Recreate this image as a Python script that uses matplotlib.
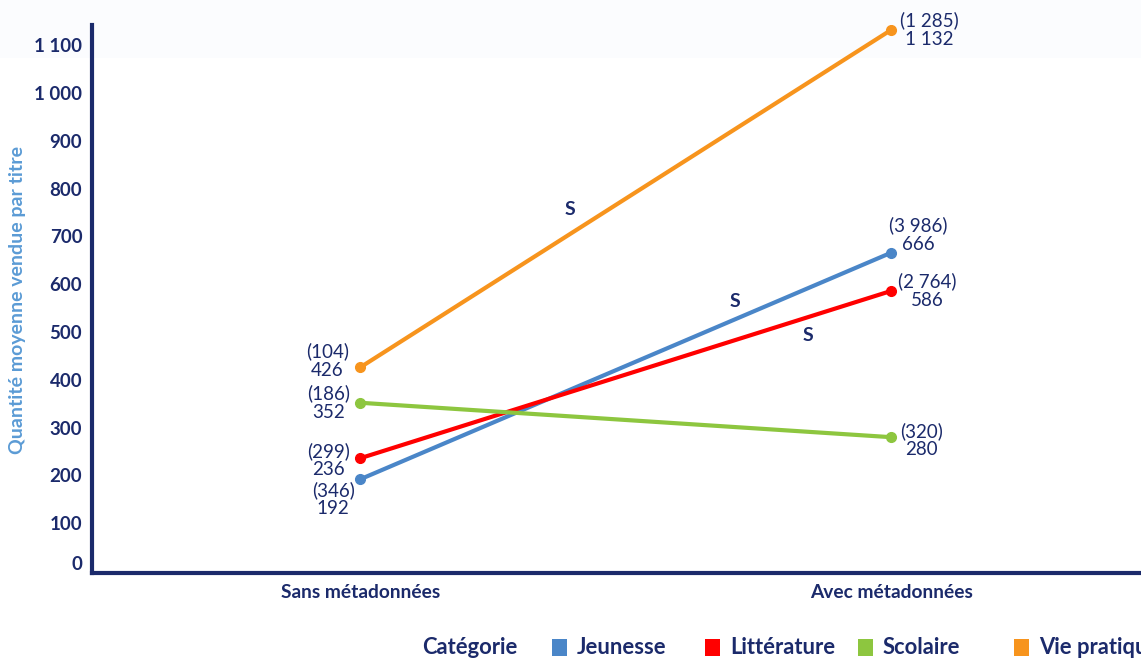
import matplotlib
matplotlib.use("Agg")
import matplotlib.pyplot as plt
from matplotlib.patches import Rectangle
from matplotlib.ticker import FuncFormatter
import matplotlib.transforms as mtransforms

# ---- data ----
conditions = ["Sans métadonnées", "Avec métadonnées"]
categories = ["Jeunesse", "Littérature", "Scolaire", "Vie pratique"]
moyenne_sans = [192, 236, 352, 426]
moyenne_avec = [666, 586, 280, 1132]
n_sans = [346, 299, 186, 104]
n_avec = [3986, 2764, 320, 1285]
colors = ["#4a86c8", "#ff0000", "#8dc63f", "#f7941d"]
yticks = [0, 100, 200, 300, 400, 500, 600, 700, 800, 900, 1000, 1100]

NAVY = "#1b2a6b"
FONT = ["Lato", "DejaVu Sans"]
plt.rcParams['font.family'] = FONT

W, H = 1141, 659
fig = plt.figure(figsize=(W / 100, H / 100), dpi=100)
fig.patches.append(Rectangle((0, 1 - 58 / H), 1, 58 / H, transform=fig.transFigure,
                             facecolor="#fbfcfe", edgecolor="none", zorder=-5))

ax = fig.add_axes([92 / W, 1 - 573 / H, 1 - 92 / W, 548 / H])
ax.set_facecolor("none")


def fmt(v):
    return f"{int(v):,}".replace(",", " ")


for i, cat in enumerate(categories):
    ax.plot([0, 1], [moyenne_sans[i], moyenne_avec[i]], color=colors[i], lw=3,
            marker="o", markersize=7, solid_capstyle="butt", zorder=3)

# label offsets (pixels): (dx, dy) for left and right points
left_off = [(-27, -20), (-32, -2), (-32, 0), (-33, 7)]
right_off = [(27, 18), (36, 0), (30, -3), (38, 0)]
for i in range(len(categories)):
    ax.annotate(f"({fmt(n_sans[i])})\n{fmt(moyenne_sans[i])}", (0, moyenne_sans[i]),
                xytext=left_off[i], textcoords="offset pixels", ha="center", va="center",
                color=NAVY, fontsize=13.5, linespacing=1.1)
    ax.annotate(f"({fmt(n_avec[i])})\n{fmt(moyenne_avec[i])}", (1, moyenne_avec[i]),
                xytext=right_off[i], textcoords="offset pixels", ha="center", va="center",
                color=NAVY, fontsize=13.5, linespacing=1.1)

# significance markers
for (x, y) in [(0.395, 757), (0.706, 564), (0.843, 493)]:
    ax.text(x, y, "S", color=NAVY, fontsize=14, fontweight="bold", ha="center", va="center")

ax.set_xlim(-0.505, 1.47)
ax.set_ylim(-4, 1142)
ax.set_xticks([0, 1])
ax.set_xticklabels(conditions, fontsize=13.8, fontweight="bold", color=NAVY)
ax.set_yticks(yticks)
ax.yaxis.set_major_formatter(FuncFormatter(lambda v, p: fmt(v)))
ax.tick_params(axis="y", length=0, pad=7, labelsize=13.5, labelcolor=NAVY)
ax.tick_params(axis="x", length=0, pad=8)
for lbl in ax.get_yticklabels():
    lbl.set_fontweight("bold")
fig.canvas.draw()
ylabels = ax.get_yticklabels()
ylabels[0].set_transform(ylabels[0].get_transform() +
                         mtransforms.ScaledTranslation(0, 8 / 100, fig.dpi_scale_trans))
for s in ["top", "right"]:
    ax.spines[s].set_visible(False)
for s in ["left", "bottom"]:
    ax.spines[s].set_color(NAVY)
    ax.spines[s].set_linewidth(3)

fig.text(18 / W, 1 - 300 / H, "Quantité moyenne vendue par titre", rotation=90,
         ha="center", va="center", color="#5b9bd5", fontsize=14, fontweight="bold")

# legend
ly = 1 - 648 / H
fig.text(422 / W, ly, "Catégorie", ha="left", va="center", color=NAVY,
         fontsize=15.8, fontweight="bold")
sq_x = [552, 705, 858, 1014]
for i, cat in enumerate(categories):
    fig.patches.append(Rectangle((sq_x[i] / W, 1 - 656 / H), 15 / W, 17 / H,
                                 transform=fig.transFigure, facecolor=colors[i],
                                 edgecolor="none"))
    fig.text((sq_x[i] + 25) / W, ly, cat, ha="left", va="center", color=NAVY,
             fontsize=15.8, fontweight="bold")

fig.savefig("out.png", dpi=100)
